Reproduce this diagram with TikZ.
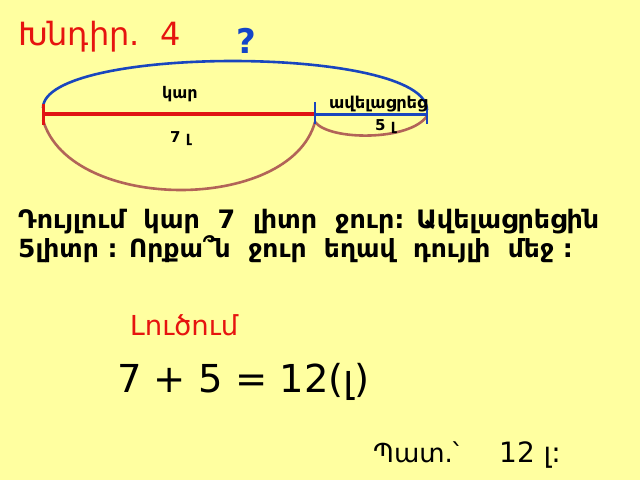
\documentclass[tikz,border=0pt]{standalone}
\usepackage{fontspec}
\setmainfont{DejaVu Sans}
\definecolor{bg}{RGB}{255,255,160}
\definecolor{tred}{RGB}{230,20,15}
\definecolor{lred}{RGB}{225,20,20}
\definecolor{lblue}{RGB}{25,70,190}
\definecolor{qblue}{RGB}{20,70,200}
\definecolor{brown}{RGB}{178,100,88}
\begin{document}
\begin{tikzpicture}[x=1pt,y=-1pt,
  lbl/.style={inner sep=0pt,anchor=base west},
  seg/.style={line width=3.5pt},
  arcb/.style={line width=2.6pt,draw=brown},
]
\fill[bg] (0,0) rectangle (640,480);
\useasboundingbox (0,0) rectangle (640,480);
% points
\coordinate (A) at (43,114);
\coordinate (B) at (315,114);
\coordinate (C) at (427,114);
% arcs
\draw[line width=2.6pt,draw=lblue] (43,108) .. controls (43,45) and (427,45) .. (427,110);
\draw[arcb] (43,120) .. controls (70,213) and (290,213) .. (315,122);
\draw[arcb] (315,122) .. controls (330,141) and (410,141) .. (427,116);
% segments
\draw[seg,lred] (A) -- (B);
\draw[line width=3pt,lblue] (B) -- (C);
\draw[line width=3pt,lred] (43,104) -- (43,125);
\draw[line width=2.5pt,lblue] (315,102) -- (315,124);
\draw[line width=2.5pt,lblue] (427,106) -- (427,124);
% labels
\node[lbl,font=\fontsize{32}{32}\selectfont,text=tred] (title) at (18,45) {Խնդիր.\ \ 4};
\node[lbl,font=\fontsize{34}{34}\selectfont\bfseries,text=qblue] (q) at (236,53) {?};
\node[lbl,font=\fontsize{16}{16}\selectfont\bfseries] (kar) at (162,98) {կար};
\node[lbl,font=\fontsize{15}{15}\selectfont\bfseries] (seven) at (170,142) {7 լ};
\node[lbl,font=\fontsize{16.3}{16}\selectfont\bfseries] (avel) at (329,108) {ավելացրեց};
\node[lbl,font=\fontsize{15}{15}\selectfont\bfseries] (five) at (375,130) {5 լ};
\node[lbl,font=\fontsize{25.4}{25}\selectfont\bfseries] (line1) at (18,228) {Դույլում\ \ կար\ \ 7\ \ լիտր\ \ ջուր: Ավելացրեցին};
\node[lbl,font=\fontsize{25}{25}\selectfont\bfseries] (line2) at (18,257) {5լիտր : Որքա՞ն\ \ ջուր\ \ եղավ\ \ դույլի\ \ մեջ :};
\node[lbl,font=\fontsize{27.5}{27}\selectfont,text=tred] (luc) at (130,335) {Լուծում};
\node[lbl,font=\fontsize{38.5}{38}\selectfont] (eq) at (117,392) {7 + 5 = 12(լ)};
\node[lbl,font=\fontsize{26}{26}\selectfont] (ans) at (373,462) {Պատ.՝};
\node[lbl,font=\fontsize{28}{28}\selectfont] (ansv) at (499,462) {12 լ:};
\end{tikzpicture}
\end{document}
